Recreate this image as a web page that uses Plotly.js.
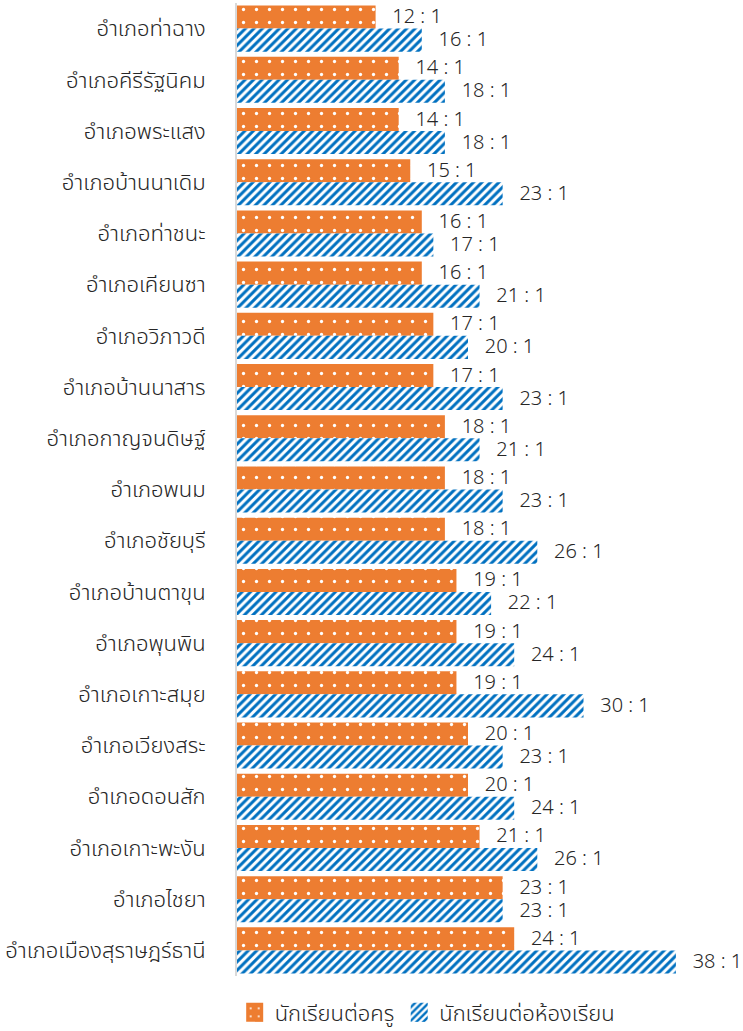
<!DOCTYPE html>
<html>
<head>
<meta charset="utf-8">
<script src="https://cdn.plot.ly/plotly-3.0.1.min.js"></script>
<style>
html,body{margin:0;padding:0;background:#fff;}
#chart{width:743px;height:1031px;}
</style>
</head>
<body>
<div id="chart"></div>
<script>
const districts = [
  "อำเภอท่าฉาง","อำเภอคีรีรัฐนิคม","อำเภอพระแสง","อำเภอบ้านนาเดิม","อำเภอท่าชนะ",
  "อำเภอเคียนซา","อำเภอวิภาวดี","อำเภอบ้านนาสาร","อำเภอกาญจนดิษฐ์","อำเภอพนม",
  "อำเภอชัยบุรี","อำเภอบ้านตาขุน","อำเภอพุนพิน","อำเภอเกาะสมุย","อำเภอเวียงสระ",
  "อำเภอดอนสัก","อำเภอเกาะพะงัน","อำเภอไชยา","อำเภอเมืองสุราษฎร์ธานี"
];
const studentsPerTeacher = [12,14,14,15,16,16,17,17,18,18,18,19,19,19,20,20,21,23,24];
const studentsPerClassroom = [16,18,18,23,17,21,20,23,21,23,26,22,24,30,23,24,26,23,38];
const seriesNames = ["นักเรียนต่อครู","นักเรียนต่อห้องเรียน"];

const FONT = "'Noto Sans Thai', 'Noto Sans', 'Leelawadee UI', Tahoma, sans-serif";
const pad = "\u00a0\u00a0\u2006";
const lbl = v => pad + v + "\u00a0:\u00a01";

const traces = [
  {
    type: "bar", orientation: "h", name: seriesNames[0],
    y: districts, x: studentsPerTeacher,
    text: studentsPerTeacher.map(lbl), textposition: "outside", cliponaxis: false, constraintext: "none",
    textfont: {family: FONT, size: 20, color: "#262626", weight: 300},
    marker: {color: "#ED7D31", line: {width: 0},
      pattern: {shape: ".", fgcolor: "#ffffff", bgcolor: "#ED7D31", size: 13, solidity: 0.05}},
    hoverinfo: "skip"
  },
  {
    type: "bar", orientation: "h", name: seriesNames[1],
    y: districts, x: studentsPerClassroom,
    text: studentsPerClassroom.map(lbl), textposition: "outside", cliponaxis: false, constraintext: "none",
    textfont: {family: FONT, size: 20, color: "#262626", weight: 300},
    marker: {color: "#0070C0", line: {width: 0},
      pattern: {shape: "/", fgcolor: "#0070C0", bgcolor: "#ffffff", size: 6, solidity: 0.5}},
    hoverinfo: "skip"
  }
];

const layout = {
  width: 743, height: 1031,
  margin: {l: 237, r: 44, t: 3, b: 55, autoexpand: false},
  paper_bgcolor: "#fff", plot_bgcolor: "#fff",
  barmode: "group", bargap: 0.1, bargroupgap: 0,
  showlegend: true,
  legend: {orientation: "h", x: -0.005, xanchor: "left", y: -0.016, yanchor: "top",
    font: {family: FONT, size: 22, color: "#262626", weight: 300}, itemwidth: 30, traceorder: "normal"},
  xaxis: {range: [0, 40], showgrid: false, zeroline: false, showticklabels: false, showline: false, fixedrange: true},
  yaxis: {autorange: "reversed", showgrid: false, zeroline: false, showline: true, linecolor: "#D9D9D9", linewidth: 2,
    ticks: "", ticklabelstandoff: 25,
    tickfont: {family: FONT, size: 22, color: "#262626", weight: 300}, fixedrange: true},
  font: {family: FONT, color: "#262626"}
};

Plotly.newPlot("chart", traces, layout, {displayModeBar: false, staticPlot: true}).then(gd => {
  gd.querySelectorAll(".legend .legendpoints path").forEach(p => {
    p.setAttribute("d", "M8.5,9.5H-8.5V-9.5H8.5Z");
  });
});
</script>
</body>
</html>
